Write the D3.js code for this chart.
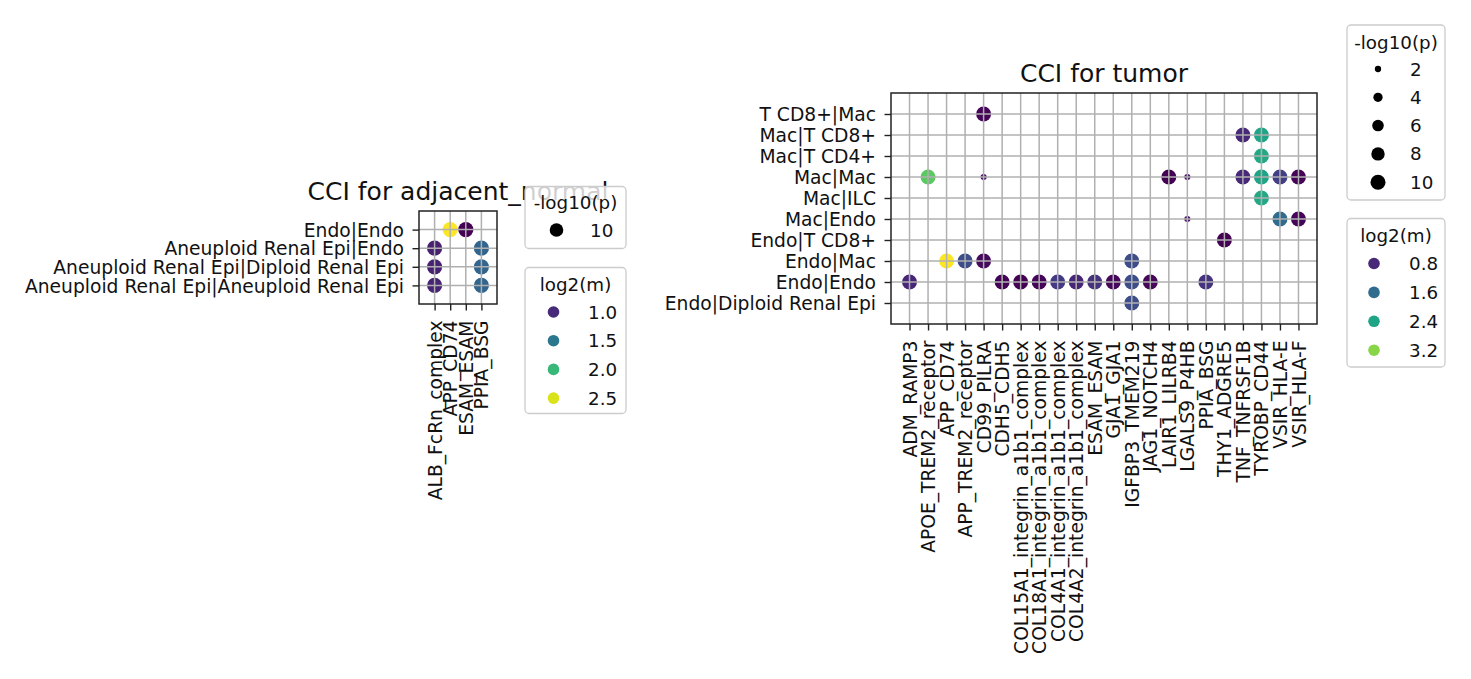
<!DOCTYPE html>
<html>
<head>
<meta charset="utf-8">
<script src="https://cdn.jsdelivr.net/npm/d3@7"></script>
<style>
  html, body { margin: 0; padding: 0; background: #fff; }
  svg { display: block; font-family: "DejaVu Sans", sans-serif; }
</style>
</head>
<body>
<svg id="chart" width="1471" height="679"></svg>
<script>
// ---------------- DATA ----------------
// adjacent_normal panel
const normalRows = [
  "Aneuploid Renal Epi|Aneuploid Renal Epi",
  "Aneuploid Renal Epi|Diploid Renal Epi",
  "Aneuploid Renal Epi|Endo",
  "Endo|Endo"
];
const normalCols = ["ALB_FcRn_complex", "APP_CD74", "ESAM_ESAM", "PPIA_BSG"];
// [pair, interaction, log2(m), -log10(p)]
const normalPoints = [
  ["Endo|Endo", "APP_CD74", 2.6, 10],
  ["Endo|Endo", "ESAM_ESAM", 0.78, 10],
  ["Aneuploid Renal Epi|Endo", "ALB_FcRn_complex", 0.95, 10],
  ["Aneuploid Renal Epi|Endo", "PPIA_BSG", 1.37, 10],
  ["Aneuploid Renal Epi|Diploid Renal Epi", "ALB_FcRn_complex", 0.95, 10],
  ["Aneuploid Renal Epi|Diploid Renal Epi", "PPIA_BSG", 1.37, 10],
  ["Aneuploid Renal Epi|Aneuploid Renal Epi", "ALB_FcRn_complex", 0.96, 10],
  ["Aneuploid Renal Epi|Aneuploid Renal Epi", "PPIA_BSG", 1.37, 10]
];
const normalSizeTicks = [10];
const normalSizeLabels = ["10"];
const normalColorTicks = [1.0, 1.5, 2.0, 2.5];
const normalColorLabels = ["1.0", "1.5", "2.0", "2.5"];

// tumor panel
const tumorRows = [
  "Endo|Diploid Renal Epi", "Endo|Endo", "Endo|Mac", "Endo|T CD8+", "Mac|Endo",
  "Mac|ILC", "Mac|Mac", "Mac|T CD4+", "Mac|T CD8+", "T CD8+|Mac"
];
const tumorCols = [
  "ADM_RAMP3", "APOE_TREM2_receptor", "APP_CD74", "APP_TREM2_receptor", "CD99_PILRA",
  "CDH5_CDH5", "COL15A1_integrin_a1b1_complex", "COL18A1_integrin_a1b1_complex",
  "COL4A1_integrin_a1b1_complex", "COL4A2_integrin_a1b1_complex", "ESAM_ESAM", "GJA1_GJA1",
  "IGFBP3_TMEM219", "JAG1_NOTCH4", "LAIR1_LILRB4", "LGALS9_P4HB", "PPIA_BSG",
  "THY1_ADGRE5", "TNF_TNFRSF1B", "TYROBP_CD44", "VSIR_HLA-E", "VSIR_HLA-F"
];
const tumorPoints = [
  ["T CD8+|Mac", "CD99_PILRA", 0.45, 10],
  ["Mac|T CD8+", "TNF_TNFRSF1B", 0.8, 10],
  ["Mac|T CD8+", "TYROBP_CD44", 2.4, 10],
  ["Mac|T CD4+", "TYROBP_CD44", 2.45, 10],
  ["Mac|Mac", "APOE_TREM2_receptor", 2.95, 10],
  ["Mac|Mac", "CD99_PILRA", 0.6, 1.9],
  ["Mac|Mac", "LAIR1_LILRB4", 0.42, 10],
  ["Mac|Mac", "LGALS9_P4HB", 0.6, 1.9],
  ["Mac|Mac", "TNF_TNFRSF1B", 0.8, 10],
  ["Mac|Mac", "TYROBP_CD44", 2.4, 10],
  ["Mac|Mac", "VSIR_HLA-E", 1.05, 10],
  ["Mac|Mac", "VSIR_HLA-F", 0.45, 10],
  ["Mac|ILC", "TYROBP_CD44", 2.45, 10],
  ["Mac|Endo", "LGALS9_P4HB", 0.6, 1.9],
  ["Mac|Endo", "VSIR_HLA-E", 1.6, 10],
  ["Mac|Endo", "VSIR_HLA-F", 0.45, 10],
  ["Endo|T CD8+", "THY1_ADGRE5", 0.43, 10],
  ["Endo|Mac", "APP_CD74", 3.8, 10],
  ["Endo|Mac", "APP_TREM2_receptor", 1.2, 10],
  ["Endo|Mac", "CD99_PILRA", 0.5, 10],
  ["Endo|Mac", "IGFBP3_TMEM219", 1.2, 10],
  ["Endo|Endo", "ADM_RAMP3", 0.78, 10],
  ["Endo|Endo", "CDH5_CDH5", 0.44, 10],
  ["Endo|Endo", "COL15A1_integrin_a1b1_complex", 0.42, 10],
  ["Endo|Endo", "COL18A1_integrin_a1b1_complex", 0.45, 10],
  ["Endo|Endo", "COL4A1_integrin_a1b1_complex", 1.0, 10],
  ["Endo|Endo", "COL4A2_integrin_a1b1_complex", 0.78, 10],
  ["Endo|Endo", "ESAM_ESAM", 0.9, 10],
  ["Endo|Endo", "GJA1_GJA1", 0.48, 10],
  ["Endo|Endo", "IGFBP3_TMEM219", 1.2, 10],
  ["Endo|Endo", "JAG1_NOTCH4", 0.48, 10],
  ["Endo|Endo", "PPIA_BSG", 0.92, 10],
  ["Endo|Diploid Renal Epi", "IGFBP3_TMEM219", 1.2, 10]
];
const tumorSizeTicks = [2, 4, 6, 8, 10];
const tumorSizeLabels = ["2", "4", "6", "8", "10"];
const tumorColorTicks = [0.8, 1.6, 2.4, 3.2];
const tumorColorLabels = ["0.8", "1.6", "2.4", "3.2"];

// ---------------- DRAW ----------------
const svg = d3.select("#chart");
const FONT = "DejaVu Sans, sans-serif";
const TICK_FS = 18.7;

function drawPanel(cfg) {
  const g = svg.append("g");
  const x = d3.scaleLinear().domain([-1, cfg.cols.length]).range([cfg.left, cfg.left + cfg.width]);
  const y = d3.scaleLinear().domain([-1, cfg.rows.length]).range([cfg.top + cfg.height, cfg.top]);
  const colIdx = new Map(cfg.cols.map((c, i) => [c, i]));
  const rowIdx = new Map(cfg.rows.map((r, i) => [r, i]));

  // points
  g.append("g").selectAll("circle").data(cfg.points).join("circle")
    .attr("cx", d => x(colIdx.get(d[1])))
    .attr("cy", d => y(rowIdx.get(d[0])))
    .attr("r", d => cfg.radius(d[3]))
    .attr("fill", d => cfg.color(d[2]));

  // grid (drawn above points, as in matplotlib)
  const grid = g.append("g");
  grid.selectAll("line.v").data(d3.range(cfg.cols.length)).join("line")
    .attr("x1", d => x(d)).attr("x2", d => x(d))
    .attr("y1", cfg.top).attr("y2", cfg.top + cfg.height)
    .attr("stroke", "#b0b0b0").attr("stroke-width", 1.5);
  grid.selectAll("line.h").data(d3.range(cfg.rows.length)).join("line")
    .attr("y1", d => y(d)).attr("y2", d => y(d))
    .attr("x1", cfg.left).attr("x2", cfg.left + cfg.width)
    .attr("stroke", "#b0b0b0").attr("stroke-width", 1.5);

  // axes
  const xAxis = d3.axisBottom(x).tickValues(d3.range(cfg.cols.length))
    .tickFormat(i => cfg.cols[i]).tickSize(6.5);
  const gx = g.append("g").attr("transform", `translate(0,${cfg.top + cfg.height})`).call(xAxis);
  gx.select(".domain").remove();
  gx.selectAll(".tick line").attr("stroke", "#222").attr("stroke-width", 1.4);
  gx.selectAll(".tick text")
    .attr("font-family", FONT).attr("font-size", TICK_FS).attr("fill", "#111")
    .attr("transform", "rotate(-90)")
    .attr("x", -16.5).attr("y", 0).attr("dy", "0.35em")
    .style("text-anchor", "end");

  const yAxis = d3.axisLeft(y).tickValues(d3.range(cfg.rows.length))
    .tickFormat(i => cfg.rows[i]).tickSize(6.5).tickPadding(8.5);
  const gy = g.append("g").attr("transform", `translate(${cfg.left},0)`).call(yAxis);
  gy.select(".domain").remove();
  gy.selectAll(".tick line").attr("stroke", "#222").attr("stroke-width", 1.4);
  gy.selectAll(".tick text")
    .attr("font-family", FONT).attr("font-size", TICK_FS).attr("fill", "#111")
    .attr("dy", "0.36em");

  // spines
  g.append("rect")
    .attr("x", cfg.left).attr("y", cfg.top)
    .attr("width", cfg.width).attr("height", cfg.height)
    .attr("fill", "none").attr("stroke", "#222").attr("stroke-width", 1.5);

  // title
  svg.append("text")
    .attr("x", cfg.left + cfg.width / 2).attr("y", cfg.top - 11.5)
    .attr("text-anchor", "middle")
    .attr("font-family", FONT).attr("font-size", 25).attr("fill", "#111")
    .text(cfg.title);
}

function drawLegend(cfg) {
  const g = svg.append("g");
  g.append("rect")
    .attr("x", cfg.x).attr("y", cfg.y).attr("width", cfg.w).attr("height", cfg.h)
    .attr("rx", 4).attr("ry", 4)
    .attr("fill", "#fff").attr("fill-opacity", 0.8)
    .attr("stroke", "#cccccc").attr("stroke-width", 1.3);
  g.append("text")
    .attr("x", cfg.x + cfg.w / 2).attr("y", cfg.titleY)
    .attr("text-anchor", "middle").attr("dy", "0.36em")
    .attr("font-family", FONT).attr("font-size", 18.3).attr("fill", "#111")
    .text(cfg.title);
  const items = g.selectAll("g.item").data(cfg.values.map((v, i) => ({ v, label: cfg.labels[i], i })))
    .join("g");
  items.append("circle")
    .attr("cx", cfg.dotX)
    .attr("cy", d => cfg.itemY0 + d.i * cfg.step)
    .attr("r", d => cfg.radius(d.v))
    .attr("fill", d => cfg.color(d.v));
  items.append("text")
    .attr("x", cfg.labelX)
    .attr("y", d => cfg.itemY0 + d.i * cfg.step)
    .attr("dy", "0.36em")
    .attr("font-family", FONT).attr("font-size", 18.3).attr("fill", "#111")
    .text(d => d.label);
}

// ---- scales for colour / size ----
const tumorExt = d3.extent(tumorPoints, d => d[2]);
const tumorColor = v => d3.interpolateViridis((v - tumorExt[0]) / (tumorExt[1] - tumorExt[0]));
const tumorArea = d3.scaleLinear().domain([2, 10]).range([40, 225]); // squared diameter
const tumorRadius = p => Math.sqrt(Math.max(tumorArea(p), 4)) / 2;

const normalExt = d3.extent(normalPoints, d => d[2]);
const normalColor = v => d3.interpolateViridis((v - normalExt[0]) / (normalExt[1] - normalExt[0]));
const normalRadius = p => 7.6;

// ---- panels ----
drawPanel({
  rows: normalRows, cols: normalCols, points: normalPoints,
  left: 419, top: 211, width: 78, height: 93,
  title: "CCI for adjacent_normal", color: normalColor, radius: normalRadius
});
drawPanel({
  rows: tumorRows, cols: tumorCols, points: tumorPoints,
  left: 891, top: 93, width: 426, height: 231,
  title: "CCI for tumor", color: tumorColor, radius: tumorRadius
});

// ---- legends ----
drawLegend({
  x: 525, y: 186.5, w: 101, h: 62, title: "-log10(p)", titleY: 202,
  values: normalSizeTicks, labels: normalSizeLabels, itemY0: 230, step: 28.5,
  dotX: 556.5, labelX: 590, radius: () => 6.8, color: () => "#000"
});
drawLegend({
  x: 525, y: 267.5, w: 101, h: 146, title: "log2(m)", titleY: 284,
  values: normalColorTicks, labels: normalColorLabels, itemY0: 312, step: 28.7,
  dotX: 553.5, labelX: 588, radius: () => 5.8, color: normalColor
});
drawLegend({
  x: 1347, y: 25, w: 98, h: 175, title: "-log10(p)", titleY: 42,
  values: tumorSizeTicks, labels: tumorSizeLabels, itemY0: 69, step: 28.3,
  dotX: 1378, labelX: 1410, radius: tumorRadius, color: () => "#000"
});
drawLegend({
  x: 1347, y: 218.5, w: 98, h: 148.5, title: "log2(m)", titleY: 235,
  values: tumorColorTicks, labels: tumorColorLabels, itemY0: 263.5, step: 28.9,
  dotX: 1374, labelX: 1409, radius: () => 5.8, color: tumorColor
});
</script>
</body>
</html>
